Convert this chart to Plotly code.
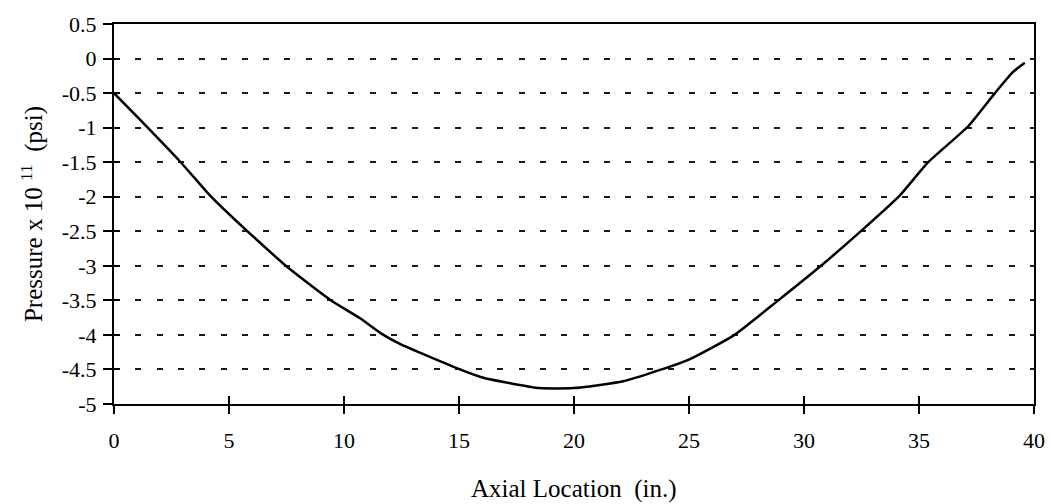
import plotly.graph_objects as go

axial_in = [0.0, 1.13, 2.87, 4.17, 4.9, 5.77, 7.51, 9.39, 10.7, 11.57, 12.43, 14.9, 16.06,
            18.5, 19.97, 22.14, 24.17, 25.04, 26.93, 28.88, 30.7, 32.4, 34.17, 35.4,
            37.14, 38.3, 39.1, 39.6]
pressure = [-0.5, -0.885, -1.49, -1.98, -2.22, -2.49, -3.01, -3.49, -3.76, -3.97, -4.13,
            -4.48, -4.62, -4.77, -4.77, -4.67, -4.46, -4.35, -4.01, -3.50, -3.01, -2.52,
            -1.98, -1.5, -0.98, -0.5, -0.19, -0.06]

x_ticks = [0, 5, 10, 15, 20, 25, 30, 35, 40]
y_ticks = [0.5, 0, -0.5, -1, -1.5, -2, -2.5, -3, -3.5, -4, -4.5, -5]
y_tick_text = ["0.5", "0", "-0.5", "-1", "-1.5", "-2", "-2.5", "-3", "-3.5", "-4", "-4.5", "-5"]
x_title = "Axial Location  (in.)"
y_title = "Pressure x 10 <sup>11</sup>  (psi)"

FONT = "Liberation Serif"

fig = go.Figure()
fig.add_trace(go.Scatter(x=axial_in, y=pressure, mode="lines",
                         line=dict(color="black", width=2.5, shape="spline", smoothing=0.5),
                         showlegend=False, hoverinfo="skip"))
# invisible trace for the overlay axes (inner halves of crossing ticks)
fig.add_trace(go.Scatter(x=[0], y=[0], xaxis="x2", yaxis="y2", mode="markers",
                         marker=dict(opacity=0), showlegend=False, hoverinfo="skip"))

fig.update_layout(
    width=1050, height=504,
    margin=dict(l=114, r=16, t=20, b=100),
    paper_bgcolor="white", plot_bgcolor="white",
    font=dict(family=FONT, size=22, color="black"),
    xaxis=dict(range=[0, 40], tickvals=x_ticks, ticks="outside", ticklen=8, tickwidth=1.5,
               tickcolor="black", showgrid=False, zeroline=False,
               showline=True, linecolor="black", linewidth=2, mirror=True,
               ticklabelstandoff=8, automargin=False,
               tickfont=dict(family=FONT, size=22)),
    yaxis=dict(range=[-5, 0.5], tickvals=y_ticks, ticktext=y_tick_text, ticks="outside",
               ticklen=9, tickwidth=1.5, tickcolor="black",
               showgrid=True, gridcolor="#1a1a1a", gridwidth=2, griddash="6px,15.3px",
               zeroline=False, showline=True, linecolor="black", linewidth=2, mirror=True,
               ticklabelstandoff=2,
               title=dict(text=y_title, font=dict(family=FONT, size=25), standoff=12),
               tickfont=dict(family=FONT, size=22)),
    xaxis2=dict(range=[0, 40], tickvals=x_ticks, ticks="inside", ticklen=8, tickwidth=1.5,
                tickcolor="black", overlaying="x", anchor="y", side="bottom",
                showticklabels=False, showgrid=False, zeroline=False, showline=False),
    yaxis2=dict(range=[-5, 0.5], tickvals=y_ticks, ticks="inside", ticklen=6, tickwidth=1.5,
                tickcolor="black", overlaying="y", anchor="x", side="left",
                showticklabels=False, showgrid=False, zeroline=False, showline=False),
    annotations=[dict(text=x_title, xref="paper", yref="paper", x=0.5, y=-0.224,
                      xanchor="center", yanchor="middle", showarrow=False,
                      font=dict(family=FONT, size=25, color="black"))],
)

fig.write_html("out.html")
